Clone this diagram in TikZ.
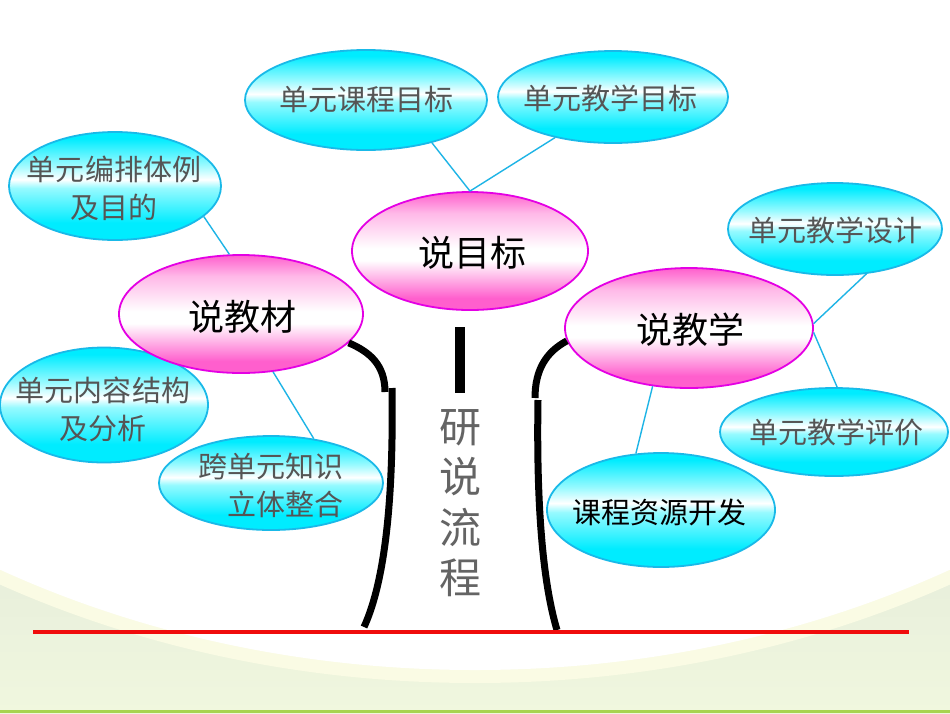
\documentclass[tikz,border=0pt]{standalone}
\usepackage{fontspec}
\newfontfamily\cjk{Noto Sans CJK SC}
\usetikzlibrary{shapes.geometric}
\definecolor{cyanC}{RGB}{0,236,255}
\definecolor{cyanL}{RGB}{150,250,255}
\definecolor{cyanB}{RGB}{25,185,232}
\definecolor{pinkC}{RGB}{255,95,205}
\definecolor{pinkL}{RGB}{255,185,232}
\definecolor{pinkB}{RGB}{228,0,228}
\definecolor{linkC}{RGB}{30,180,230}
\definecolor{leafText}{RGB}{85,85,85}
\definecolor{trunkText}{RGB}{100,100,100}
\definecolor{bgTop}{RGB}{229,236,219}
\definecolor{bgBot}{RGB}{240,247,222}
\definecolor{bandY}{RGB}{250,251,228}
\definecolor{groundR}{RGB}{240,12,12}
\definecolor{edgeG}{RGB}{168,212,80}
\pgfdeclareverticalshading{cyanfill}{100bp}{color(0bp)=(cyanC); color(25bp)=(cyanC); color(33bp)=(cyanC); color(49bp)=(cyanL); color(53bp)=(white); color(60bp)=(cyanL); color(72bp)=(cyanC); color(75bp)=(cyanC); color(100bp)=(cyanC)}
\pgfdeclareverticalshading{pinkfill}{100bp}{color(0bp)=(pinkC); color(25bp)=(pinkC); color(30bp)=(pinkC); color(46bp)=(white); color(51bp)=(white); color(66bp)=(pinkL); color(75bp)=(pinkC); color(100bp)=(pinkC)}
\tikzset{
  leaf/.style={ellipse, shading=cyanfill, draw=cyanB, line width=1.8pt, inner sep=0pt},
  hub/.style={ellipse, shading=pinkfill, draw=pinkB, line width=1.8pt, inner sep=0pt},
  leaftext/.style={font=\cjk\fontsize{29}{38}\selectfont, text=leafText, align=center, inner sep=0pt},
  hubtext/.style={font=\cjk\fontsize{36}{40}\selectfont, text=black, inner sep=0pt},
  link/.style={draw=linkC, line width=1.4pt},
  trunk/.style={draw=black, line width=7pt},
}
\begin{document}
\begin{tikzpicture}[x=1pt,y=-1pt]
\useasboundingbox (0,0) rectangle (950,713);
% background
\shade[top color=bgTop, bottom color=bgBot] (0,520) rectangle (950,713);
\fill[bandY] (475,-80) ellipse [x radius=966pt, y radius=763pt];
\fill[white] (475,-80) ellipse [x radius=950pt, y radius=750pt];
\draw[edgeG, line width=2.5pt] (0,711.5) -- (950,711.5);

% trunk
\coordinate (lA) at (385,392);
\coordinate (lB) at (392,388);
\coordinate (lE) at (364,627);
\coordinate (rA) at (535,398);
\coordinate (rB) at (538,400);
\coordinate (rE) at (557,630);
\coordinate (mA) at (460,327);
\coordinate (mB) at (460,393);
\coordinate (gL) at (33,632);
\coordinate (gR) at (909,632);

% ellipses
\node[leaf, minimum width=242, minimum height=100] (c1) at (366,100) {};
\node[leaf, minimum width=230, minimum height=92] (c2) at (613,97) {};
\node[leaf, minimum width=212, minimum height=108] (c3) at (115,186) {};
\node[leaf, minimum width=214, minimum height=92] (c6) at (835,229) {};
\node[leaf, minimum width=208, minimum height=115] (c4) at (104,405) {};
\node[leaf, minimum width=224, minimum height=94] (c5) at (271,483) {};
\node[leaf, minimum width=228, minimum height=88] (c7) at (834,432) {};
\node[leaf, minimum width=228, minimum height=114] (c8) at (661,510) {};
\node[hub, minimum width=236, minimum height=118] (g) at (470,251) {};
\node[hub, minimum width=244, minimum height=118] (m) at (241,314) {};
\node[hub, minimum width=248, minimum height=120] (t) at (689,328) {};

% connectors
\draw[link] (c1.327) -- (g.north);
\draw[link] (c2.215) -- (g.north);
\draw[link] (c3.341) -- (m.101);
\draw[link] (m.299) -- (c5.46);
\draw[link] (t.2) -- (c6.305);
\draw[link] (t.-2) -- (c7.86);
\draw[link] (t.238) -- (c8.114);

% trunk lines
\draw[trunk] (m.-15) .. controls (370,352) and (385,365) .. (lA);
\draw[trunk] (lB) .. controls (394,520) and (381,590) .. (lE);
\draw[trunk] (t.186) .. controls (546,352) and (535,370) .. (rA);
\draw[trunk] (rB) .. controls (536,520) and (545,590) .. (rE);
\draw[draw=black, line width=10pt] (mA) -- (mB);
\draw[draw=groundR, line width=4pt] (gL) -- (gR);

% texts
\node[leaftext] (t1) at (366,99) {单元课程目标};
\node[leaftext] (t2) at (610,98) {单元教学目标};
\node[leaftext] (t3) at (114,188) {单元编排体例\\及目的};
\node[leaftext] (t6) at (835,230) {单元教学设计};
\node[leaftext] (t4) at (103,409) {单元内容结构\\及分析};
\node[leaftext, align=right] (t5) at (271,485) {跨单元知识\\立体整合};
\node[leaftext] (t7) at (836,432) {单元教学评价};
\node[leaftext, text=black] (t8) at (659,512) {课程资源开发};
\node[hubtext] (tg) at (472,253) {说目标};
\node[hubtext] (tm) at (242,317) {说教材};
\node[hubtext] (tt) at (690,330) {说教学};
\node[font=\cjk\fontsize{42}{50.5}\selectfont, text=trunkText, align=center, inner sep=0pt] (tv) at (460,503) {研\\说\\流\\程};
\end{tikzpicture}
\end{document}
